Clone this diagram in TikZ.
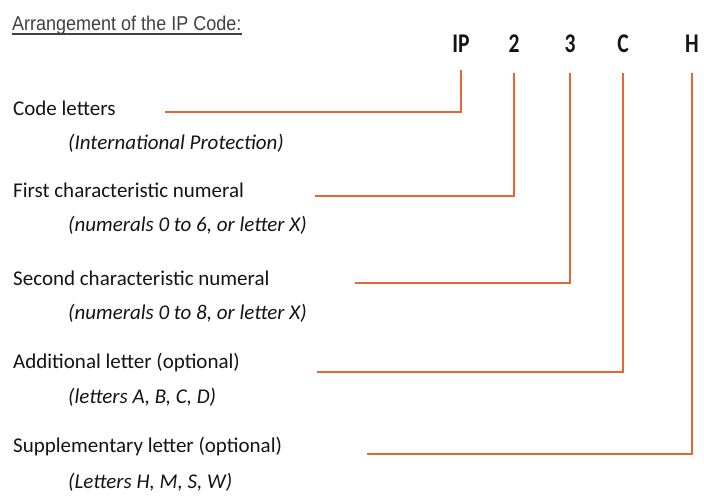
\documentclass[tikz,border=0pt]{standalone}
\usepackage{fontspec}
\setmainfont{Carlito}
\newfontfamily\titlefont{Liberation Sans}
\definecolor{ipline}{RGB}{228,102,52}
\definecolor{ink}{RGB}{20,20,20}
\begin{document}
\begin{tikzpicture}[x=1pt,y=-1pt,
  lbl/.style={anchor=base west,inner sep=0pt,text=ink,font=\fontsize{21}{22}\selectfont},
  sub/.style={anchor=base west,inner sep=0pt,text=ink,font=\fontsize{21}{22}\selectfont\itshape},
  code/.style={anchor=base,inner sep=0pt,text=ink,font=\fontsize{27}{28}\selectfont\bfseries},
  conn/.style={draw=ipline,line width=1.8pt}]
\useasboundingbox (0,0) rectangle (704,498);
% title
\node[anchor=base west,inner sep=0pt,text=black!75,font=\titlefont\fontsize{20}{21}\selectfont] (title) at (12,30) {\scalebox{0.9}[1]{Arrangement of the IP Code:}};
\draw[black!75,line width=1.3pt] ([yshift=-4pt]title.base west) -- ([yshift=-4pt]title.base east);
% code letters
\node[code] (IP) at (461,52) {\scalebox{0.8}[1]{IP}};
\node[code] (n2) at (514,52) {\scalebox{0.8}[1]{2}};
\node[code] (n3) at (570,52) {\scalebox{0.8}[1]{3}};
\node[code] (lC) at (623,52) {\scalebox{0.8}[1]{C}};
\node[code] (lH) at (692,52) {\scalebox{0.8}[1]{H}};
% labels
\node[lbl] (l1) at (13,115) {Code letters};
\node[sub] (s1) at (68,149) {(International Protection)};
\node[lbl] (l2) at (13,197) {First characteristic numeral};
\node[sub] (s2) at (68,231) {(numerals 0 to 6, or letter X)};
\node[lbl] (l3) at (13,285) {Second characteristic numeral};
\node[sub] (s3) at (68,319) {(numerals 0 to 8, or letter X)};
\node[lbl] (l4) at (13,368) {Additional letter (optional)};
\node[sub] (s4) at (68,403) {(letters A, B, C, D)};
\node[lbl] (l5) at (13,452) {Supplementary letter (optional)};
\node[sub] (s5) at (68,488) {(Letters H, M, S, W)};
% connector ends
\coordinate (a1) at (165,112);
\coordinate (a2) at (315,196);
\coordinate (a3) at (355,283);
\coordinate (a4) at (317,372);
\coordinate (a5) at (367,454);
\coordinate (t1) at ([yshift=-18pt]IP.base);
\coordinate (t2) at ([yshift=-21pt]n2.base);
\coordinate (t3) at ([yshift=-21pt]n3.base);
\coordinate (t4) at ([yshift=-21pt]lC.base);
\coordinate (t5) at ([yshift=-21pt]lH.base);
\draw[conn] (a1) -| (t1);
\draw[conn] (a2) -| (t2);
\draw[conn] (a3) -| (t3);
\draw[conn] (a4) -| (t4);
\draw[conn] (a5) -| (t5);
\end{tikzpicture}
\end{document}
